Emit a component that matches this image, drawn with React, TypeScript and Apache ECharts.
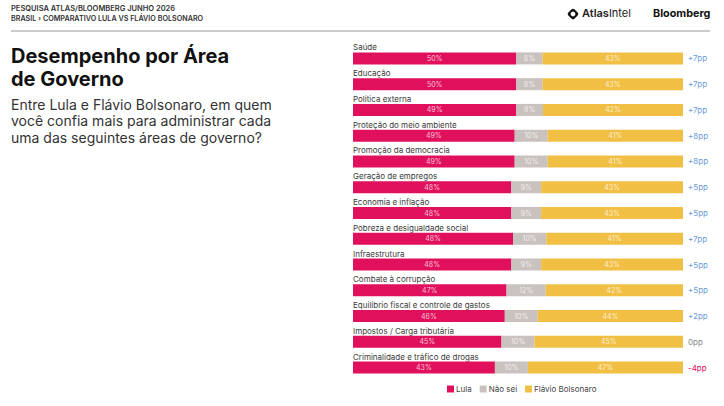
import React, { useEffect, useRef } from "react";
import * as echarts from "echarts";

const categories = [
  "Saúde",
  "Educação",
  "Política externa",
  "Proteção do meio ambiente",
  "Promoção da democracia",
  "Geração de empregos",
  "Economia e inflação",
  "Pobreza e desigualdade social",
  "Infraestrutura",
  "Combate à corrupção",
  "Equilíbrio fiscal e controle de gastos",
  "Impostos / Carga tributária",
  "Criminalidade e tráfico de drogas",
];
const lula = [50, 50, 49, 49, 49, 48, 48, 48, 48, 47, 46, 45, 43];
const naoSei = [8, 8, 8, 10, 10, 9, 9, 10, 9, 12, 10, 10, 10];
const flavio = [43, 43, 42, 41, 41, 43, 43, 41, 43, 42, 44, 45, 47];
const diffs = [7, 7, 7, 8, 8, 5, 5, 7, 5, 5, 2, 0, -4];

const seriesNames = ["Lula", "Não sei", "Flávio Bolsonaro"];
const COLORS = ["#E1105D", "#C9C2BF", "#F2BF45"];
const FONT = "Inter, 'Open Sans', sans-serif";

function diffLabel(d: number) {
  return d > 0 ? `+${d}pp` : d < 0 ? `-${Math.abs(d)}pp` : `${d}pp`;
}

export default function App() {
  const ref = useRef<HTMLDivElement>(null);
  useEffect(() => {
    if (!ref.current) return;
    const chart = echarts.init(ref.current, null, { renderer: "svg" });
    const totals = lula.map((v, i) => v + naoSei[i] + flavio[i]);
    const raw = [lula, naoSei, flavio];
    const norm = raw.map((arr) => arr.map((v, i) => (v / totals[i]) * 100));

    const series = raw.map((arr, s) => ({
      name: seriesNames[s],
      type: "bar",
      stack: "total",
      barWidth: 12,
      data: norm[s],
      itemStyle: { color: COLORS[s] },
      label: {
        show: true,
        position: "inside",
        formatter: (p: any) => `${arr[p.dataIndex]}%`,
        color: "rgba(255,255,255,0.75)",
        fontSize: 7,
        fontFamily: FONT,
      },
    }));

    chart.setOption({
      animation: false,
      textStyle: { fontFamily: FONT },
      grid: { left: 353, right: 41, top: 45.5, bottom: 25.5, containLabel: false },
      xAxis: { type: "value", min: 0, max: 100, show: false },
      yAxis: [
        {
          type: "category",
          inverse: true,
          data: categories,
          axisLine: { show: false },
          axisTick: { show: false },
          axisLabel: {
            inside: true,
            margin: 0,
            align: "left",
            verticalAlign: "bottom",
            padding: [0, 0, 7, 0],
            fontSize: 8,
            color: "#3a3a3a",
            fontFamily: FONT,
          },
        },
        {
          type: "category",
          inverse: true,
          position: "right",
          data: categories,
          axisLine: { show: false },
          axisTick: { show: false },
          axisLabel: {
            margin: 5,
            align: "left",
            fontSize: 8,
            fontFamily: FONT,
            formatter: (_v: string, i: number) => diffLabel(diffs[i]),
            color: (_v: string, i: number) =>
              diffs[i] > 0 ? "#6A9BD8" : diffs[i] < 0 ? "#E1105D" : "#888",
          },
        },
      ],
      legend: {
        data: seriesNames,
        left: 447,
        top: 385,
        padding: 0,
        itemWidth: 7,
        itemHeight: 7,
        itemGap: 8,
        icon: "rect",
        textStyle: { fontSize: 8, color: "#444", fontFamily: FONT, padding: [0, 0, 0, -3] },
      },
      graphic: [
        {
          type: "text",
          left: 11,
          top: 4.5,
          style: { text: "PESQUISA ATLAS/BLOOMBERG JUNHO 2026", fontSize: 7.5, fontWeight: 600, fill: "#333", fontFamily: FONT },
        },
        {
          type: "text",
          left: 11,
          top: 14.5,
          style: { text: "BRASIL › COMPARATIVO LULA VS FLÁVIO BOLSONARO", fontSize: 7.2, fontWeight: 600, fill: "#333", fontFamily: FONT },
        },
        {
          type: "line",
          shape: { x1: 11, y1: 31, x2: 710, y2: 31 },
          style: { stroke: "#9a9a9a", lineWidth: 1 },
        },
        {
          type: "rect",
          x: 573,
          y: 14,
          originX: 0,
          originY: 0,
          rotation: Math.PI / 4,
          shape: { x: -4.3, y: -4.3, width: 8.6, height: 8.6, r: 2 },
          style: { fill: "#111" },
        },
        {
          type: "circle",
          shape: { cx: 573, cy: 14, r: 2.4 },
          style: { fill: "#fff" },
        },
        {
          type: "text",
          left: 582,
          top: 7.5,
          style: {
            text: "{b|Atlas}{n|Intel}",
            rich: {
              b: { fontSize: 11, fontWeight: 600, fill: "#222", fontFamily: FONT },
              n: { fontSize: 11, fontWeight: 400, fill: "#222", fontFamily: FONT },
            },
          },
        },
        {
          type: "text",
          left: 653,
          top: 7.5,
          style: { text: "Bloomberg", fontSize: 10.8, fontWeight: 700, fill: "#111", fontFamily: FONT },
        },
        {
          type: "text",
          left: 11,
          top: 44,
          style: {
            text: "Desempenho por Área\nde Governo",
            fontSize: 20,
            lineHeight: 23,
            fontWeight: 700,
            fill: "#111",
            fontFamily: FONT,
          },
        },
        {
          type: "text",
          left: 11,
          top: 96,
          style: {
            text: "Entre Lula e Flávio Bolsonaro, em quem\nvocê confia mais para administrar cada\numa das seguintes áreas de governo?",
            fontSize: 14,
            lineHeight: 16.5,
            fontWeight: 400,
            fill: "#333",
            fontFamily: FONT,
          },
        },
      ],
      series,
    });
    return () => chart.dispose();
  }, []);
  return (
    <div
      ref={ref}
      style={{ position: "fixed", left: 0, top: 0, width: 724, height: 406, background: "#fff" }}
    />
  );
}
